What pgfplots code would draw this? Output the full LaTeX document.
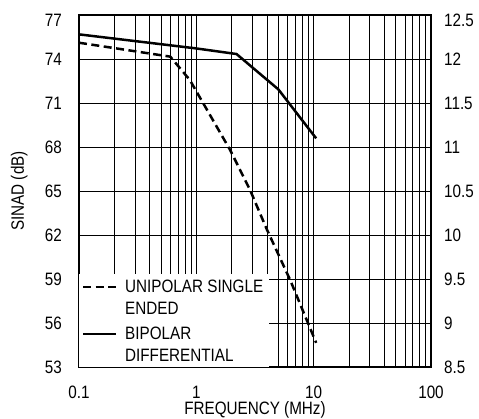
\documentclass[border=0pt]{standalone}
\usepackage{fontspec}
\setmainfont{Liberation Sans}[FakeStretch=0.85]
\usepackage{pgfplots}
\pgfplotsset{compat=1.18}

\begin{document}
\fontsize{18}{22.5}\selectfont
\begin{tikzpicture}
\begin{semilogxaxis}[
    name=ax,
    scale only axis,
    width=352bp, height=352bp,
    xmin=0.1, xmax=100,
    ymin=53, ymax=77,
    ytick={53,56,...,77},
    yticklabels={53,56,59,62,65,68,71,74,{\raisebox{-5bp}[\height][\depth]{77}}},
    xtick={0.1,1,10,100},
    xticklabels={0.1,1,10,100},
    grid=both,
    major grid style={black, line width=0.9bp},
    minor grid style={black, line width=0.9bp},
    axis line style={black, line width=1.6bp},
    tick style={draw=none},
    /pgf/number format/assume math mode=true,
    ticklabel style={font=\fontsize{18}{20}\selectfont},
    label style={font=\fontsize{18}{20}\selectfont},
    yticklabel style={xshift=-11bp},
    xticklabel style={yshift=-13bp},
    xlabel={FREQUENCY (MHz)},
    ylabel={SINAD (dB)},
    xlabel style={yshift=10bp},
    ylabel style={yshift=5bp},
    legend style={at={(0,0)}, anchor=south west, draw=none, fill=white,
        inner xsep=4bp, inner ysep=1bp, row sep=3bp,
        cells={anchor=west},
        font=\fontsize{18}{22}\selectfont},
    legend cell align=left,
    legend image code/.code={
        \path[draw=none, fill=none] (0bp,0bp) -- (40bp,0bp);
        \draw[#1, overlay] (0bp,10bp) -- (33bp,10bp);
    },
]
\addplot[black, line width=2.5bp, dash pattern=on 8bp off 4.5bp] coordinates {
    (0.1,75.11) (0.6,74.16) (0.88,72.57) (1.94,67.8) (2.87,65.07)
    (3.98,62.4) (6.3,58.94) (10.5,54.65)
};
\addlegendentry{\begin{tabular}[b]{@{}l@{}}UNIPOLAR SINGLE\\ENDED\end{tabular}}
\addplot[black, line width=2.5bp] coordinates {
    (0.1,75.68) (1,74.72) (2.2,74.34) (5,71.93) (10.5,68.59)
};
\addlegendentry{\begin{tabular}[b]{@{}l@{}}BIPOLAR\\DIFFERENTIAL\end{tabular}}
\end{semilogxaxis}
\begin{semilogxaxis}[
    scale only axis,
    width=352bp, height=352bp,
    xmin=0.1, xmax=100,
    ymin=8.5, ymax=12.5,
    axis x line=none,
    axis y line*=right,
    axis line style={black, line width=1.6bp},
    ytick={8.5,9,...,12.5},
    yticklabels={8.5,9,9.5,10,10.5,11,11.5,12,{\raisebox{-5bp}[\height][\depth]{12.5}}},
    tick style={draw=none},
    ticklabel style={font=\fontsize{18}{20}\selectfont},
    yticklabel style={xshift=7bp},
]
\end{semilogxaxis}
\pgfresetboundingbox
\path (ax.south west) ++(-79bp,-52bp) rectangle ++(479bp,419bp);
\end{tikzpicture}
\end{document}
